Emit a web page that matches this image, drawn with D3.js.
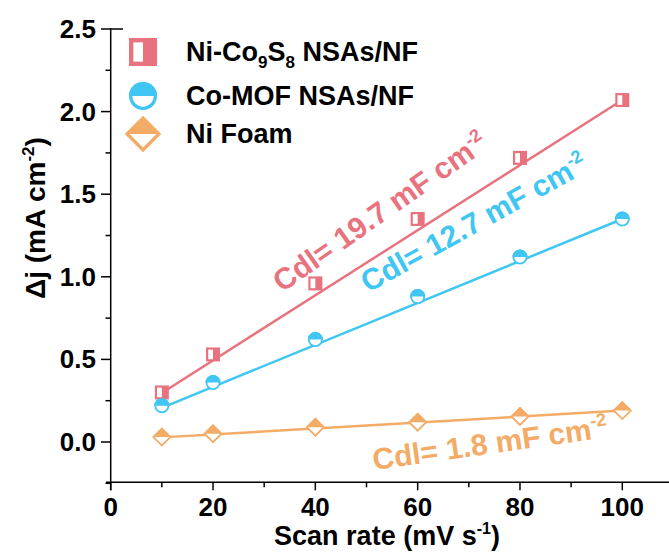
<!DOCTYPE html>
<html><head><meta charset="utf-8">
<script src="https://cdn.jsdelivr.net/npm/d3@7"></script>
<style>
html,body{margin:0;padding:0;background:#fff;}
svg{display:block;font-family:"Liberation Sans",Arial,sans-serif;font-weight:bold;}
</style></head>
<body><svg id="chart" width="669" height="553"></svg>
<script>
const scanRates = [10, 20, 40, 60, 80, 100];
const niCoS = [0.30, 0.53, 0.96, 1.35, 1.72, 2.07];
const coMOF = [0.22, 0.36, 0.62, 0.88, 1.12, 1.35];
const niFoam = [0.03, 0.05, 0.09, 0.12, 0.155, 0.19];
const slopes = [0.0197, 0.0127, 0.0018];
const seriesNames = ["Ni-Co9S8 NSAs/NF", "Co-MOF NSAs/NF", "Ni Foam"];
const cdlLabels = ["19.7", "12.7", "1.8"];
const xTicks = [0, 20, 40, 60, 80, 100];
const yTicks = [0.0, 0.5, 1.0, 1.5, 2.0, 2.5];

const colors = ["#E8737F", "#3FC6F2", "#F3AB66"];
const svg = d3.select("#chart");
const x = d3.scaleLinear().domain([0, 100]).range([110.7, 622.3]);
const y = d3.scaleLinear().domain([0, 2.5]).range([442, 29]);
const xAxisY = y(-0.244);

// x axis
const gx = svg.append("g").attr("transform", `translate(0,${xAxisY})`);
gx.append("line").attr("x1", 106).attr("x2", 669).attr("stroke", "#000").attr("stroke-width", 1.5);
const xMinor = d3.range(0, 120, 10);
gx.selectAll(".xt").data(xMinor).join("line")
  .attr("x1", d => x(d)).attr("x2", d => x(d))
  .attr("y1", 0).attr("y2", d => d % 20 === 0 ? 8 : 5)
  .attr("stroke", "#000").attr("stroke-width", 1.5);
gx.selectAll(".xl").data(xTicks).join("text")
  .attr("x", d => x(d)).attr("y", 34).attr("text-anchor", "middle")
  .attr("font-size", 26).text(d => d);

// y axis
const gy = svg.append("g");
gy.append("line").attr("x1", 110.7).attr("x2", 110.7).attr("y1", 28.3).attr("y2", xAxisY + 8)
  .attr("stroke", "#000").attr("stroke-width", 1.5);
const yMinor = d3.range(-0.25, 2.51, 0.25);
gy.selectAll(".yt").data(yMinor).join("line")
  .attr("x1", d => Math.abs(d / 0.5 - Math.round(d / 0.5)) < 1e-6 ? 101 : 105.5)
  .attr("x2", 110.7)
  .attr("y1", d => y(d)).attr("y2", d => y(d))
  .attr("stroke", "#000").attr("stroke-width", 1.5);
gy.append("line").attr("x1", 110.7).attr("x2", 123).attr("y1", y(2.5)).attr("y2", y(2.5))
  .attr("stroke", "#000").attr("stroke-width", 1.5);
gy.selectAll(".yl").data(yTicks).join("text")
  .attr("x", 96).attr("y", d => y(d) + 9).attr("text-anchor", "end")
  .attr("font-size", 26).text(d => d.toFixed(1));

// axis titles
const xt = svg.append("text").attr("x", 387).attr("y", 545).attr("text-anchor", "middle").attr("font-size", 27);
xt.append("tspan").text("Scan rate (mV s");
xt.append("tspan").attr("font-size", 16).attr("dy", -11).text("-1");
xt.append("tspan").attr("dy", 11).text(")");

const yt = svg.append("text").attr("transform", "translate(45,218) rotate(-90)").attr("text-anchor", "middle").attr("font-size", 28);
yt.append("tspan").text("Δj (mA cm");
yt.append("tspan").attr("font-size", 17).attr("dy", -11).text("-2");
yt.append("tspan").attr("dy", 11).text(")");

// fit lines and markers
const allSeries = [niCoS, coMOF, niFoam];
allSeries.forEach((vals, i) => {
  const endV = vals[vals.length - 1];
  const x0 = scanRates[0], x1 = scanRates[scanRates.length - 1];
  const fit = [[x0, endV - slopes[i] * (x1 - x0)], [x1, endV]];
  svg.append("path").datum(fit)
    .attr("d", d3.line().x(d => x(d[0])).y(d => y(d[1])))
    .attr("stroke", colors[i]).attr("stroke-width", 2.5).attr("fill", "none");
});

function marker(g, type, cx, cy, s, col) {
  const sw = Math.max(1.5, s * 0.12);
  if (type === 0) {
    g.append("rect").attr("x", cx - s / 2).attr("y", cy - s / 2).attr("width", s).attr("height", s).attr("fill", col);
    g.append("rect").attr("x", cx - s / 2 + sw * 1.3).attr("y", cy - s / 2 + sw * 1.3)
      .attr("width", s * 0.5 - sw * 1.3).attr("height", s - sw * 2.6).attr("fill", "#fff");
  } else if (type === 1) {
    const r = s / 2;
    g.append("circle").attr("cx", cx).attr("cy", cy).attr("r", r - sw / 2).attr("fill", "#fff").attr("stroke", col).attr("stroke-width", sw);
    g.append("path").attr("d", `M${cx - r},${cy} A${r},${r} 0 0 1 ${cx + r},${cy} Z`).attr("fill", col);
  } else {
    const h = s / 2 * 1.25;
    g.append("path").attr("d", `M${cx},${cy - h + sw / 2} L${cx + h - sw / 2},${cy} L${cx},${cy + h - sw / 2} L${cx - h + sw / 2},${cy} Z`)
      .attr("fill", "#fff").attr("stroke", col).attr("stroke-width", sw);
    g.append("path").attr("d", `M${cx - h},${cy} L${cx},${cy - h} L${cx + h},${cy} Z`).attr("fill", col);
  }
}

const mSizes = [14, 15, 15];
allSeries.forEach((vals, i) => {
  const g = svg.append("g");
  vals.forEach((v, j) => marker(g, i, x(scanRates[j]), y(v), mSizes[i], colors[i]));
});

// legend
const legY = [52, 96, 134];
const legText = [
  [["Ni-Co", 0], ["9", 1], ["S", 0], ["8", 1], [" NSAs/NF", 0]],
  [["Co-MOF NSAs/NF", 0]],
  [["Ni Foam", 0]]
];
legText.forEach((parts, i) => {
  const lg = svg.append("g");
  marker(lg, i, 143, legY[i], 28, colors[i]);
  const t = svg.append("text").attr("x", 186).attr("y", legY[i] + 9).attr("font-size", 27);
  let sub = false;
  parts.forEach(([s, isSub]) => {
    const ts = t.append("tspan").text(s);
    if (isSub && !sub) { ts.attr("font-size", 17).attr("dy", 7); sub = true; }
    else if (!isSub && sub) { ts.attr("dy", -7); sub = false; }
  });
});

// Cdl annotations
const ann = [
  {i: 0, x: 282, y: 293, a: -35},
  {i: 1, x: 368, y: 293, a: -29},
  {i: 2, x: 374, y: 470, a: -8}
];
ann.forEach(o => {
  const t = svg.append("text").attr("transform", `translate(${o.x},${o.y}) rotate(${o.a})`)
    .attr("font-size", 30).attr("fill", colors[o.i]);
  t.append("tspan").text(`Cdl= ${cdlLabels[o.i]} mF cm`);
  t.append("tspan").attr("font-size", 18).attr("dy", -12).text("-2");
});
</script></body></html>
